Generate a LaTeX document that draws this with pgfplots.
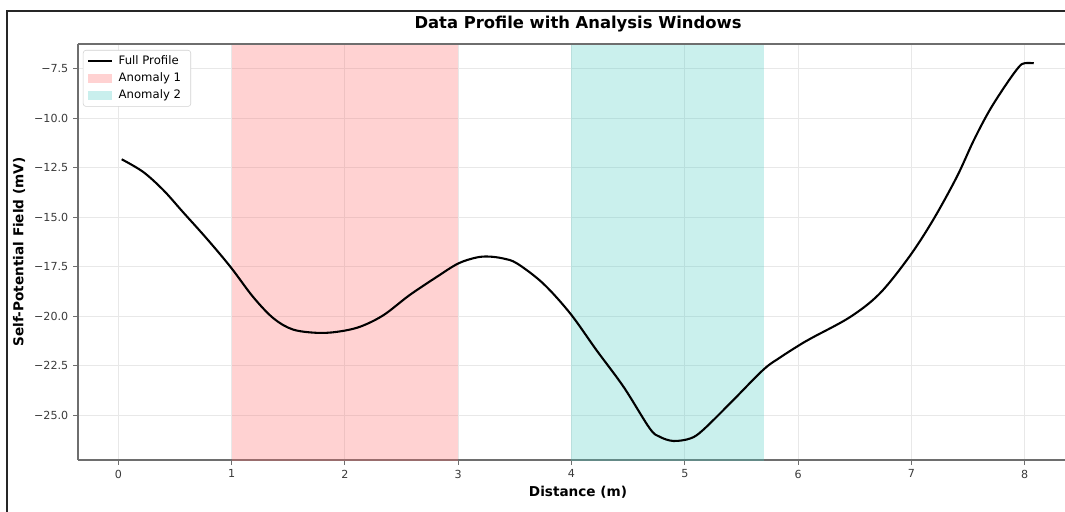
\documentclass[border=0pt]{standalone}
\usepackage{pgfplots}
\pgfplotsset{compat=1.18}
\usepackage{fontspec}
\setmainfont{DejaVu Sans}
\definecolor{anomA}{HTML}{FF6B6B}
\definecolor{anomB}{HTML}{4ECDC4}
\definecolor{spine}{HTML}{6E6E6E}
\definecolor{ticklab}{HTML}{3A3A3A}
\begin{document}
\begin{tikzpicture}[x=0.72pt,y=0.72pt]
\draw[black!85, line width=1pt] (7,-5) -- (7,500) -- (1070,500);
\begin{axis}[
  at={(56.16pt,36.72pt)}, anchor=south west,
  scale only axis, width=710.64pt, height=299.52pt,
  xmin=-0.3557, xmax=8.356, ymin=-27.25, ymax=-6.25,
  axis x line*=bottom, axis y line*=left,
  xtick={0,1,...,8},
  ytick={-25,-22.5,-20,-17.5,-15,-12.5,-10,-7.5},
  yticklabels={−25.0,−22.5,−20.0,−17.5,−15.0,−12.5,−10.0,−7.5},
  /pgf/number format/assume math mode=true,
  tick pos=left, tick align=outside,
  major tick length=3.5pt,
  every tick/.style={spine, line width=0.6pt},
  tick label style={font=\fontsize{8}{9}\selectfont, text=ticklab},
  axis line style={spine, line width=1pt, -},
  grid=major, major grid style={black!9, line width=0.6pt},
  title={Data Profile with Analysis Windows},
  title style={font=\bfseries\fontsize{11.8}{14}\selectfont, at={(axis description cs:0.5066,1)}, anchor=base, yshift=5pt},
  xlabel={Distance (m)},
  xlabel style={font=\bfseries\fontsize{9.8}{12}\selectfont, at={(axis description cs:0.5066,0)}, anchor=base, yshift=-26.6pt},
  ylabel={Self-Potential Field (mV)},
  ylabel style={font=\bfseries\fontsize{9.8}{12}\selectfont, at={(axis description cs:-0.0598,0.5)}, anchor=center},
  legend style={at={(axis description cs:0.005,0.9856)}, anchor=north west,
    font=\fontsize{8.4}{9.5}\selectfont, draw=black!18, rounded corners=2pt,
    fill=white, row sep=0.4pt,
    inner xsep=3pt, inner ysep=2pt,
    nodes={inner xsep=4pt}},
  legend cell align=left,
]
\addplot[fill=anomA, fill opacity=0.3, draw=none, forget plot] coordinates {(1,-30) (3,-30) (3,0) (1,0)} -- cycle;
\addplot[fill=anomB, fill opacity=0.3, draw=none, forget plot] coordinates {(4,-30) (5.7,-30) (5.7,0) (4,0)} -- cycle;
\addplot[black, line width=1.5pt, smooth, tension=0.55] coordinates {
(0.03,-12.07) (0.22,-12.71) (0.40,-13.64) (0.57,-14.73) (0.78,-16.07)
(0.99,-17.50) (1.19,-19.02) (1.37,-20.10) (1.54,-20.66) (1.75,-20.83)
(1.93,-20.78) (2.13,-20.53) (2.34,-19.94) (2.57,-18.93) (2.81,-18.01)
(3.00,-17.33) (3.16,-17.03) (3.27,-16.98) (3.40,-17.08) (3.52,-17.33) (3.75,-18.34)
(3.99,-19.86) (4.22,-21.70) (4.46,-23.56) (4.69,-25.65) (4.78,-26.08)
(4.90,-26.29) (5.05,-26.16) (5.16,-25.74) (5.40,-24.39) (5.69,-22.71)
(5.84,-22.08) (6.02,-21.42) (6.13,-21.06) (6.46,-20.03) (6.72,-18.85)
(6.98,-17.00) (7.19,-15.15) (7.40,-12.97) (7.55,-11.12) (7.69,-9.60)
(7.84,-8.26) (7.95,-7.40) (8.00,-7.22) (8.08,-7.22)};
\addlegendentry{Full Profile}
\addlegendimage{legend image code/.code={\fill[anomA, fill opacity=0.3, draw=none, sharp corners] (0cm,-0.11cm) rectangle (0.6cm,0.11cm);}}
\addlegendentry{Anomaly 1}
\addlegendimage{legend image code/.code={\fill[anomB, fill opacity=0.3, draw=none, sharp corners] (0cm,-0.11cm) rectangle (0.6cm,0.11cm);}}
\addlegendentry{Anomaly 2}
\draw[spine, line width=1pt] (rel axis cs:0,1) -- (rel axis cs:1,1);
\end{axis}
\pgfresetboundingbox
\useasboundingbox (0,0) rectangle (1065,511);
\end{tikzpicture}
\end{document}
